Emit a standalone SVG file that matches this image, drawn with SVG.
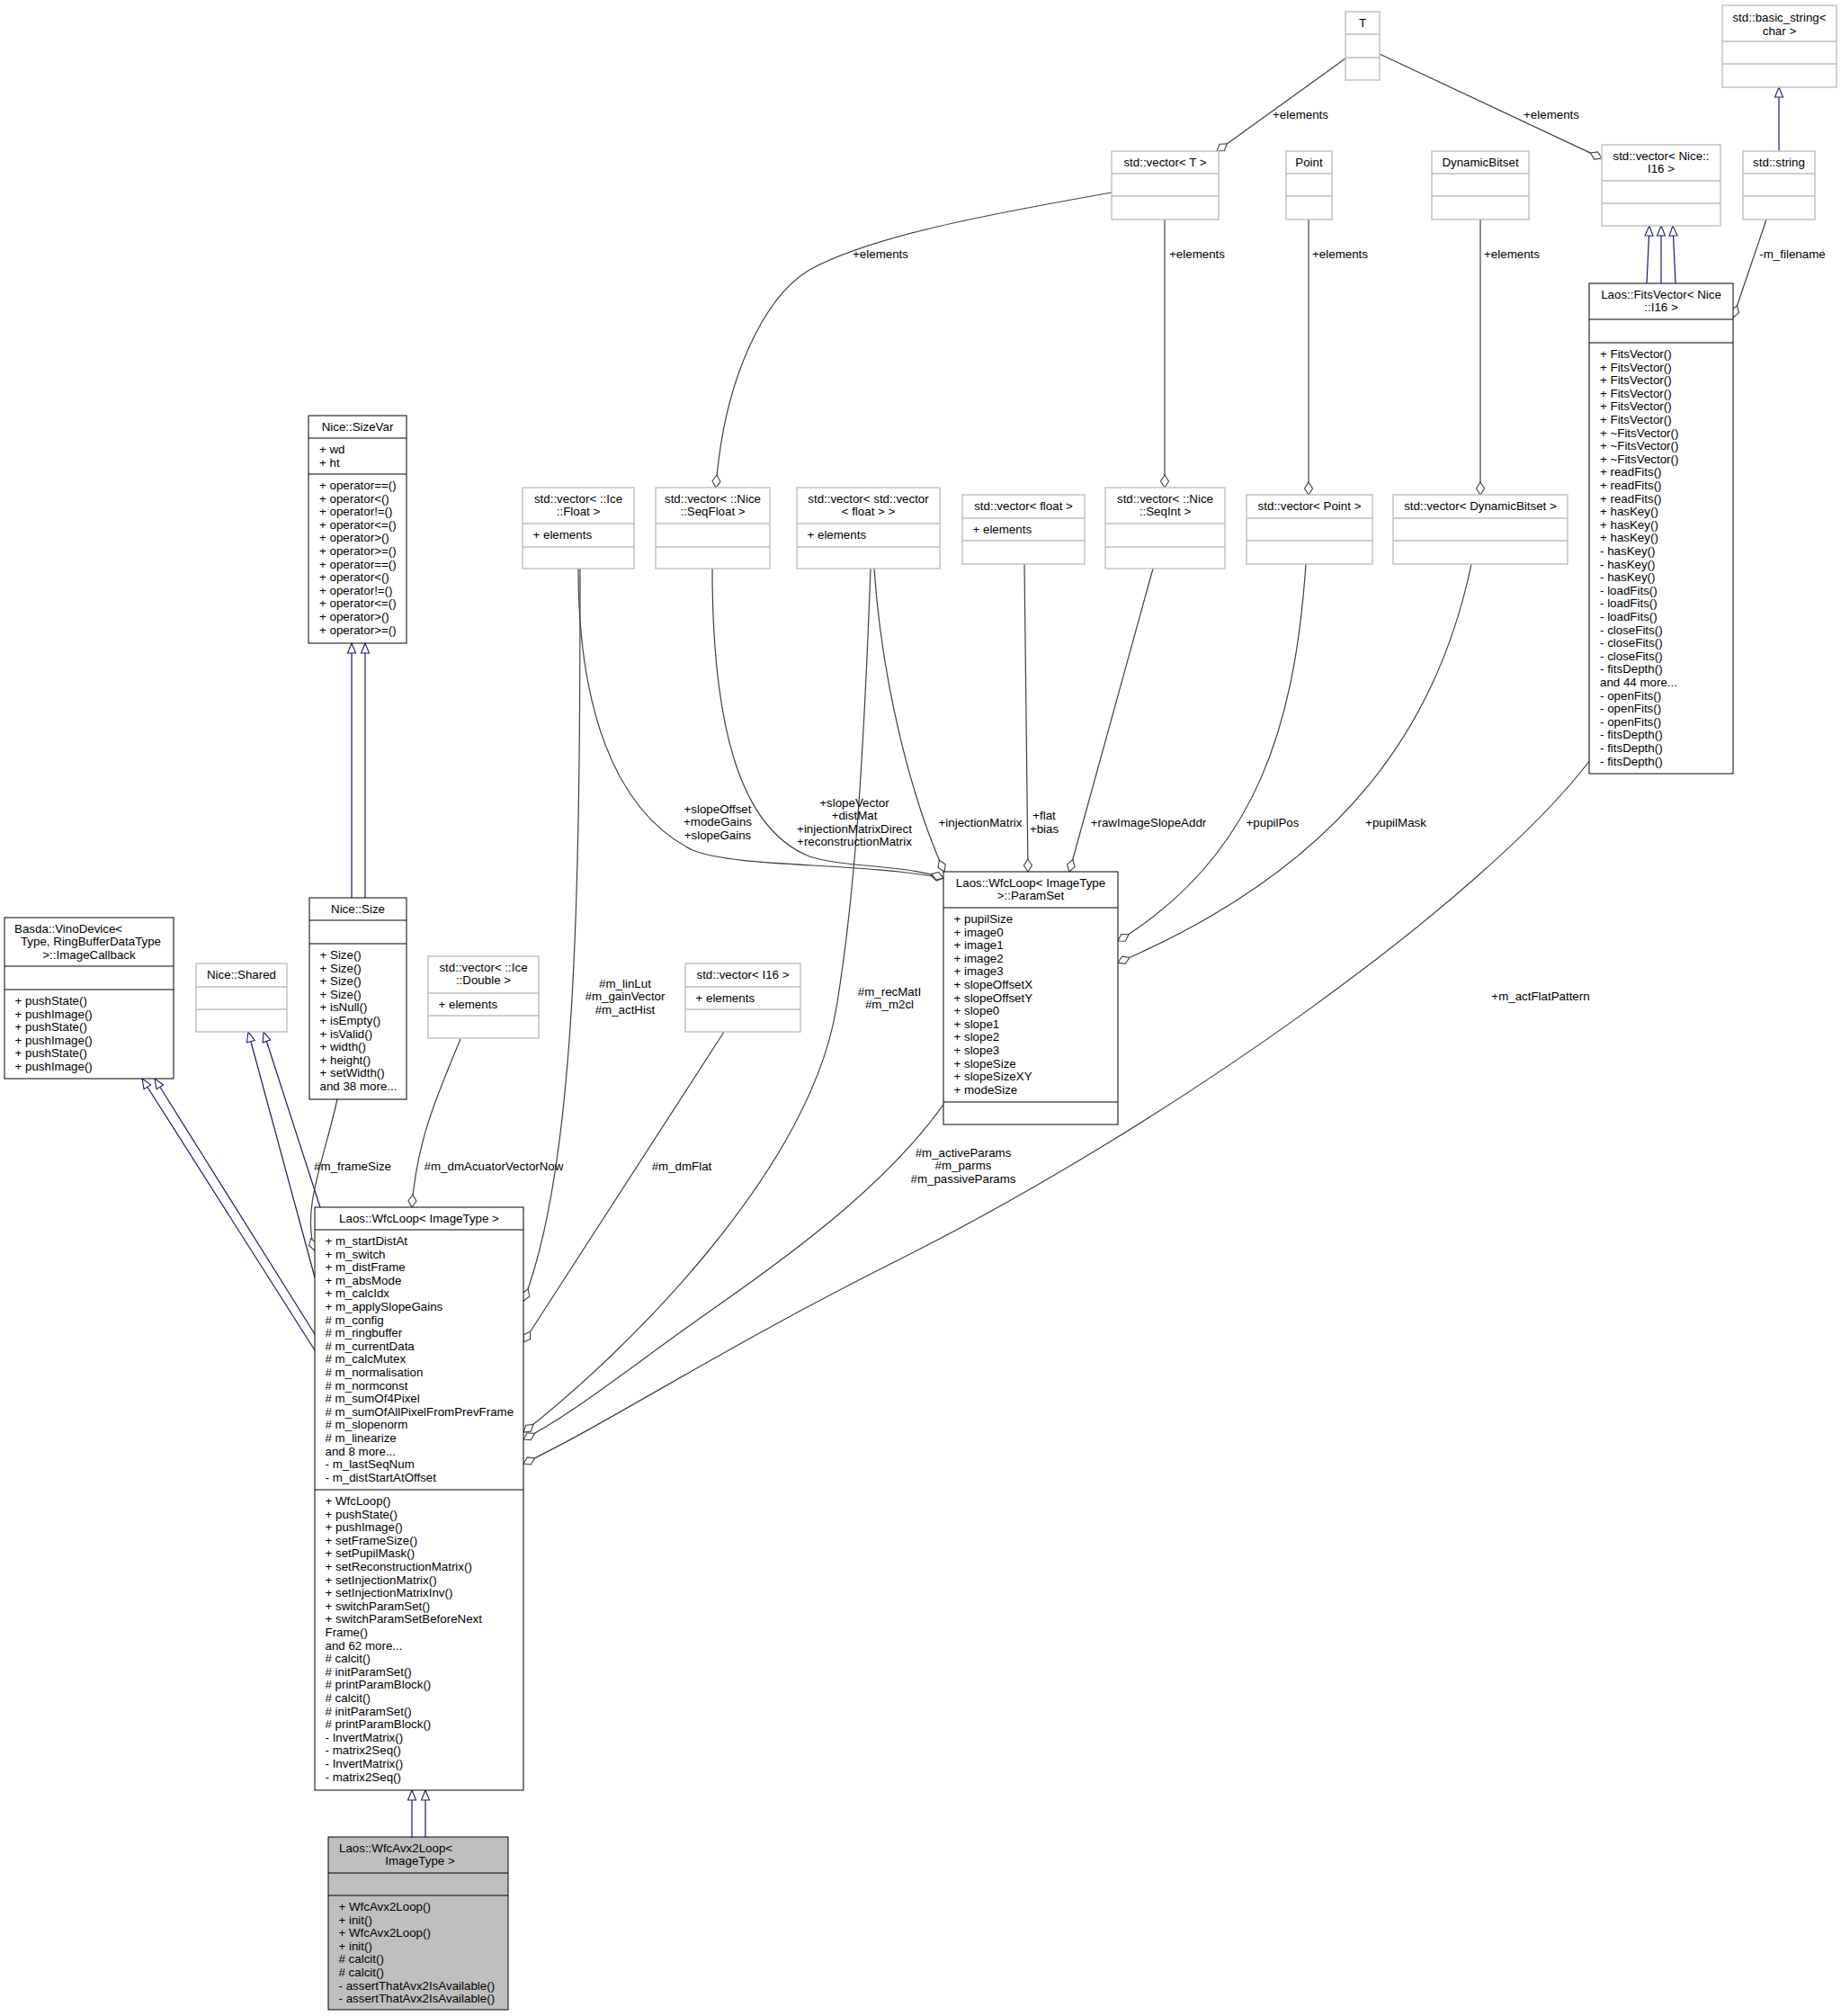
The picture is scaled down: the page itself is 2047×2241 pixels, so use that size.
<svg xmlns="http://www.w3.org/2000/svg" width="2047" height="2241" viewBox="0 0 2047 2241">
<style>
text{font-family:"Liberation Sans",Arial,Helvetica,sans-serif;font-size:13.33px;fill:#000}
.c{text-anchor:middle}
.b{fill:#fff;stroke:#000;stroke-width:1}
.gr{fill:#fff;stroke:#bfbfbf;stroke-width:1.4}
.f{fill:#bfbfbf;stroke:#000;stroke-width:1}
.dl{stroke:#000;stroke-width:1}
.gl{stroke:#bfbfbf;stroke-width:1.4}
.u{fill:none;stroke:#404040;stroke-width:1.2;marker-end:url(#dia)}
.i{fill:none;stroke:#191970;stroke-width:1.2;marker-end:url(#tri)}
</style>
<defs>
<marker id="dia" viewBox="-1 -6 16 12" refX="14" refY="0" markerWidth="16" markerHeight="12" markerUnits="userSpaceOnUse" orient="auto"><path d="M0,0 L7,-4.5 L14,0 L7,4.5 Z" fill="#fff" stroke="#404040" stroke-width="1.1"/></marker>
<marker id="tri" viewBox="-1 -6 13 12" refX="11" refY="0" markerWidth="13" markerHeight="12" markerUnits="userSpaceOnUse" orient="auto"><path d="M0,-4.5 L11,0 L0,4.5 Z" fill="#fff" stroke="#191970" stroke-width="1.1"/></marker>
</defs>
<rect x="0" y="0" width="2047" height="2241" fill="#fff"/>

<g id="connectors">
<path class="i" d="M458,2042 L458,1990"/>
<path class="i" d="M473,2042 L473,1990"/>
<path class="i" d="M350,1501 L158,1199"/>
<path class="i" d="M350,1483 L172,1199"/>
<path class="i" d="M350,1420 L276,1147"/>
<path class="i" d="M356,1342 L293,1147"/>
<path class="i" d="M391,998 L391,715"/>
<path class="i" d="M406,998 L406,715"/>
<path class="i" d="M1978,168 L1978,97"/>
<path class="i" d="M1831,315 L1834,251"/>
<path class="i" d="M1847,315 L1847,251"/>
<path class="i" d="M1863,315 L1860,251"/>

<path class="u" d="M1496,65 L1353,168"/>
<path class="u" d="M1534,60 L1781,176"/>
<path class="u" d="M1236,214 C1100,238 970,262 900,300 C850,330 805,420 796,542"/>
<path class="u" d="M1295,244 L1295,542"/>
<path class="u" d="M1455,244 L1455,550"/>
<path class="u" d="M1646,244 L1646,550"/>
<path class="u" d="M1964,244 L1927,353"/>
<path class="u" d="M1768,845 C1650,1000 1300,1250 1000,1400 C800,1500 680,1580 582,1627"/>
<path class="u" d="M643,632 C643,780 680,900 770,945 C820,965 950,958 1049,976"/>
<path class="u" d="M792,632 C792,800 820,920 900,952 C940,965 1000,960 1049,976"/>
<path class="u" d="M972,632 C980,750 1010,880 1050,969"/>
<path class="u" d="M1139,627 L1143,969"/>
<path class="u" d="M1282,632 L1189,969"/>
<path class="u" d="M1452,627 C1440,800 1400,950 1243,1046"/>
<path class="u" d="M1636,627 C1600,800 1500,960 1243,1070"/>
<path class="u" d="M645,632 C645,1000 640,1300 582,1446"/>
<path class="u" d="M805,1147 L582,1492"/>
<path class="u" d="M968,632 C960,850 950,1000 930,1120 C900,1300 700,1500 582,1592"/>
<path class="u" d="M1049,1228 C990,1310 900,1380 800,1450 C700,1520 640,1570 582,1600"/>
<path class="u" d="M375,1222 C360,1290 335,1345 350,1390"/>
<path class="u" d="M512,1155 C485,1220 463,1270 458,1342"/>

<text class="c" x="1446" y="132">+elements</text>
<text class="c" x="1725" y="132">+elements</text>
<text class="c" x="979" y="287">+elements</text>
<text class="c" x="1331" y="287">+elements</text>
<text class="c" x="1490" y="287">+elements</text>
<text class="c" x="1681" y="287">+elements</text>
<text class="c" x="1993" y="287">-m_filename</text>
<text class="c" x="798"><tspan x="798" y="903.5">+slopeOffset</tspan><tspan x="798" y="918">+modeGains</tspan><tspan x="798" y="932.6">+slopeGains</tspan></text>
<text class="c" x="950"><tspan x="950" y="896.5">+slopeVector</tspan><tspan x="950" y="911">+distMat</tspan><tspan x="950" y="925.6">+injectionMatrixDirect</tspan><tspan x="950" y="940.2">+reconstructionMatrix</tspan></text>
<text class="c" x="1090" y="918.5">+injectionMatrix</text>
<text class="c" x="1161"><tspan x="1161" y="911">+flat</tspan><tspan x="1161" y="925.6">+bias</tspan></text>
<text class="c" x="1277" y="918.5">+rawImageSlopeAddr</text>
<text class="c" x="1415" y="918.5">+pupilPos</text>
<text class="c" x="1552" y="918.5">+pupilMask</text>
<text class="c" x="392" y="1300.5">#m_frameSize</text>
<text class="c" x="549" y="1300.5">#m_dmAcuatorVectorNow</text>
<text class="c" x="695"><tspan x="695" y="1097.5">#m_linLut</tspan><tspan x="695" y="1112">#m_gainVector</tspan><tspan x="695" y="1126.6">#m_actHist</tspan></text>
<text class="c" x="758" y="1300.5">#m_dmFlat</text>
<text class="c" x="989"><tspan x="989" y="1106.5">#m_recMatI</tspan><tspan x="989" y="1121">#m_m2cl</tspan></text>
<text class="c" x="1071"><tspan x="1071" y="1285.5">#m_activeParams</tspan><tspan x="1071" y="1300">#m_parms</tspan><tspan x="1071" y="1314.6">#m_passiveParams</tspan></text>
<text class="c" x="1713" y="1112">+m_actFlatPattern</text>
</g>

<g id="T">
<rect class="gr" x="1496" y="13" width="38" height="76"/>
<path class="gl" d="M1496,38 H1534 M1496,64 H1534"/>
<text class="c" x="1515" y="30">T</text>
</g>

<g id="basic_string">
<rect class="gr" x="1915" y="6" width="127" height="91"/>
<path class="gl" d="M1915,46 H2042 M1915,71 H2042"/>
<text class="c"><tspan x="1978.5" y="24">std::basic_string&lt;</tspan><tspan x="1978.5" y="38.5">char &gt;</tspan></text>
</g>

<g id="vector_T">
<rect class="gr" x="1236" y="168" width="119" height="76"/>
<path class="gl" d="M1236,193 H1355 M1236,218 H1355"/>
<text class="c" x="1295.5" y="185">std::vector&lt; T &gt;</text>
</g>

<g id="Point">
<rect class="gr" x="1430" y="168" width="51" height="76"/>
<path class="gl" d="M1430,193 H1481 M1430,218 H1481"/>
<text class="c" x="1455.5" y="185">Point</text>
</g>

<g id="DynamicBitset">
<rect class="gr" x="1592" y="168" width="108" height="76"/>
<path class="gl" d="M1592,193 H1700 M1592,218 H1700"/>
<text class="c" x="1646" y="185">DynamicBitset</text>
</g>

<g id="vector_NiceI16">
<rect class="gr" x="1781" y="161" width="132" height="90"/>
<path class="gl" d="M1781,201 H1913 M1781,226 H1913"/>
<text class="c"><tspan x="1847" y="177.5">std::vector&lt; Nice::</tspan><tspan x="1847" y="192">I16 &gt;</tspan></text>
</g>

<g id="std_string">
<rect class="gr" x="1938" y="168" width="80" height="76"/>
<path class="gl" d="M1938,193 H2018 M1938,218 H2018"/>
<text class="c" x="1978" y="185">std::string</text>
</g>

<g id="FitsVector">
<rect class="b" x="1767" y="315" width="160" height="545"/>
<path class="dl" d="M1767,355 H1927 M1767,381 H1927"/>
<text class="c"><tspan x="1847" y="331.5">Laos::FitsVector&lt; Nice</tspan><tspan x="1847" y="346">::I16 &gt;</tspan></text>
<text x="1779"><tspan x="1779" y="398">+ FitsVector()</tspan><tspan x="1779" dy="14.6">+ FitsVector()</tspan><tspan x="1779" dy="14.6">+ FitsVector()</tspan><tspan x="1779" dy="14.6">+ FitsVector()</tspan><tspan x="1779" dy="14.6">+ FitsVector()</tspan><tspan x="1779" dy="14.6">+ FitsVector()</tspan><tspan x="1779" dy="14.6">+ ~FitsVector()</tspan><tspan x="1779" dy="14.6">+ ~FitsVector()</tspan><tspan x="1779" dy="14.6">+ ~FitsVector()</tspan><tspan x="1779" dy="14.6">+ readFits()</tspan><tspan x="1779" dy="14.6">+ readFits()</tspan><tspan x="1779" dy="14.6">+ readFits()</tspan><tspan x="1779" dy="14.6">+ hasKey()</tspan><tspan x="1779" dy="14.6">+ hasKey()</tspan><tspan x="1779" dy="14.6">+ hasKey()</tspan><tspan x="1779" dy="14.6">- hasKey()</tspan><tspan x="1779" dy="14.6">- hasKey()</tspan><tspan x="1779" dy="14.6">- hasKey()</tspan><tspan x="1779" dy="14.6">- loadFits()</tspan><tspan x="1779" dy="14.6">- loadFits()</tspan><tspan x="1779" dy="14.6">- loadFits()</tspan><tspan x="1779" dy="14.6">- closeFits()</tspan><tspan x="1779" dy="14.6">- closeFits()</tspan><tspan x="1779" dy="14.6">- closeFits()</tspan><tspan x="1779" dy="14.6">- fitsDepth()</tspan><tspan x="1779" dy="14.6">and 44 more...</tspan><tspan x="1779" dy="14.6">- openFits()</tspan><tspan x="1779" dy="14.6">- openFits()</tspan><tspan x="1779" dy="14.6">- openFits()</tspan><tspan x="1779" dy="14.6">- fitsDepth()</tspan><tspan x="1779" dy="14.6">- fitsDepth()</tspan><tspan x="1779" dy="14.6">- fitsDepth()</tspan></text>
</g>

<g id="SizeVar">
<rect class="b" x="343" y="462" width="109" height="253"/>
<path class="dl" d="M343,487 H452 M343,527 H452"/>
<text class="c" x="397.5" y="479">Nice::SizeVar</text>
<text x="355"><tspan x="355" y="504">+ wd</tspan><tspan x="355" dy="14.6">+ ht</tspan></text>
<text x="355"><tspan x="355" y="544">+ operator==()</tspan><tspan x="355" dy="14.6">+ operator&lt;()</tspan><tspan x="355" dy="14.6">+ operator!=()</tspan><tspan x="355" dy="14.6">+ operator&lt;=()</tspan><tspan x="355" dy="14.6">+ operator&gt;()</tspan><tspan x="355" dy="14.6">+ operator&gt;=()</tspan><tspan x="355" dy="14.6">+ operator==()</tspan><tspan x="355" dy="14.6">+ operator&lt;()</tspan><tspan x="355" dy="14.6">+ operator!=()</tspan><tspan x="355" dy="14.6">+ operator&lt;=()</tspan><tspan x="355" dy="14.6">+ operator&gt;()</tspan><tspan x="355" dy="14.6">+ operator&gt;=()</tspan></text>
</g>

<g id="vector_IceFloat">
<rect class="gr" x="581" y="542" width="124" height="90"/>
<path class="gl" d="M581,582 H705 M581,608 H705"/>
<text class="c"><tspan x="643" y="558.5">std::vector&lt; ::Ice</tspan><tspan x="643" y="573">::Float &gt;</tspan></text>
<text x="592.5" y="599">+ elements</text>
</g>

<g id="vector_SeqFloat">
<rect class="gr" x="729" y="542" width="127" height="90"/>
<path class="gl" d="M729,582 H856 M729,608 H856"/>
<text class="c"><tspan x="792.5" y="558.5">std::vector&lt; ::Nice</tspan><tspan x="792.5" y="573">::SeqFloat &gt;</tspan></text>
</g>

<g id="vector_vector_float">
<rect class="gr" x="886" y="542" width="159" height="90"/>
<path class="gl" d="M886,582 H1045 M886,608 H1045"/>
<text class="c"><tspan x="965.5" y="558.5">std::vector&lt; std::vector</tspan><tspan x="965.5" y="573">&lt; float &gt; &gt;</tspan></text>
<text x="897.5" y="599">+ elements</text>
</g>

<g id="vector_float">
<rect class="gr" x="1070" y="550" width="136" height="77"/>
<path class="gl" d="M1070,576 H1206 M1070,601 H1206"/>
<text class="c" x="1138" y="567">std::vector&lt; float &gt;</text>
<text x="1081.5" y="593">+ elements</text>
</g>

<g id="vector_SeqInt">
<rect class="gr" x="1229" y="542" width="133" height="90"/>
<path class="gl" d="M1229,582 H1362 M1229,608 H1362"/>
<text class="c"><tspan x="1295.5" y="558.5">std::vector&lt; ::Nice</tspan><tspan x="1295.5" y="573">::SeqInt &gt;</tspan></text>
</g>

<g id="vector_Point">
<rect class="gr" x="1386" y="550" width="140" height="77"/>
<path class="gl" d="M1386,576 H1526 M1386,601 H1526"/>
<text class="c" x="1456" y="567">std::vector&lt; Point &gt;</text>
</g>

<g id="vector_DynamicBitset">
<rect class="gr" x="1549" y="550" width="194" height="77"/>
<path class="gl" d="M1549,576 H1743 M1549,601 H1743"/>
<text class="c" x="1646" y="567">std::vector&lt; DynamicBitset &gt;</text>
</g>

<g id="ParamSet">
<rect class="b" x="1049" y="969" width="194" height="281"/>
<path class="dl" d="M1049,1009 H1243 M1049,1225 H1243"/>
<text class="c"><tspan x="1146" y="985.5">Laos::WfcLoop&lt; ImageType</tspan><tspan x="1146" y="1000">&gt;::ParamSet</tspan></text>
<text x="1060.5"><tspan x="1060.5" y="1026">+ pupilSize</tspan><tspan x="1060.5" dy="14.6">+ image0</tspan><tspan x="1060.5" dy="14.6">+ image1</tspan><tspan x="1060.5" dy="14.6">+ image2</tspan><tspan x="1060.5" dy="14.6">+ image3</tspan><tspan x="1060.5" dy="14.6">+ slopeOffsetX</tspan><tspan x="1060.5" dy="14.6">+ slopeOffsetY</tspan><tspan x="1060.5" dy="14.6">+ slope0</tspan><tspan x="1060.5" dy="14.6">+ slope1</tspan><tspan x="1060.5" dy="14.6">+ slope2</tspan><tspan x="1060.5" dy="14.6">+ slope3</tspan><tspan x="1060.5" dy="14.6">+ slopeSize</tspan><tspan x="1060.5" dy="14.6">+ slopeSizeXY</tspan><tspan x="1060.5" dy="14.6">+ modeSize</tspan></text>
</g>

<g id="Basda_ImageCallback">
<rect class="b" x="5" y="1020" width="188" height="179"/>
<path class="dl" d="M5,1074 H193 M5,1100 H193"/>
<text x="16" y="1036.5">Basda::VinoDevice&lt;</text>
<text class="c"><tspan x="101" y="1051">Type, RingBufferDataType</tspan><tspan x="99" y="1065.6">&gt;::ImageCallback</tspan></text>
<text x="16.5"><tspan x="16.5" y="1117">+ pushState()</tspan><tspan x="16.5" dy="14.6">+ pushImage()</tspan><tspan x="16.5" dy="14.6">+ pushState()</tspan><tspan x="16.5" dy="14.6">+ pushImage()</tspan><tspan x="16.5" dy="14.6">+ pushState()</tspan><tspan x="16.5" dy="14.6">+ pushImage()</tspan></text>
</g>

<g id="Nice_Shared">
<rect class="gr" x="218" y="1071" width="101" height="76"/>
<path class="gl" d="M218,1097 H319 M218,1122 H319"/>
<text class="c" x="268.5" y="1088">Nice::Shared</text>
</g>

<g id="Nice_Size">
<rect class="b" x="344" y="998" width="108" height="224"/>
<path class="dl" d="M344,1023 H452 M344,1049 H452"/>
<text class="c" x="398" y="1015">Nice::Size</text>
<text x="355.5"><tspan x="355.5" y="1066">+ Size()</tspan><tspan x="355.5" dy="14.6">+ Size()</tspan><tspan x="355.5" dy="14.6">+ Size()</tspan><tspan x="355.5" dy="14.6">+ Size()</tspan><tspan x="355.5" dy="14.6">+ isNull()</tspan><tspan x="355.5" dy="14.6">+ isEmpty()</tspan><tspan x="355.5" dy="14.6">+ isValid()</tspan><tspan x="355.5" dy="14.6">+ width()</tspan><tspan x="355.5" dy="14.6">+ height()</tspan><tspan x="355.5" dy="14.6">+ setWidth()</tspan><tspan x="355.5" dy="14.6">and 38 more...</tspan></text>
</g>

<g id="vector_IceDouble">
<rect class="gr" x="476" y="1063" width="123" height="91"/>
<path class="gl" d="M476,1104 H599 M476,1129 H599"/>
<text class="c"><tspan x="537.5" y="1079.5">std::vector&lt; ::Ice</tspan><tspan x="537.5" y="1094">::Double &gt;</tspan></text>
<text x="487.5" y="1121">+ elements</text>
</g>

<g id="vector_I16">
<rect class="gr" x="762" y="1071" width="128" height="76"/>
<path class="gl" d="M762,1097 H890 M762,1122 H890"/>
<text class="c" x="826" y="1088">std::vector&lt; I16 &gt;</text>
<text x="773.5" y="1114">+ elements</text>
</g>

<g id="WfcLoop">
<rect class="b" x="350" y="1342" width="232" height="648"/>
<path class="dl" d="M350,1367 H582 M350,1656 H582"/>
<text class="c" x="466" y="1359">Laos::WfcLoop&lt; ImageType &gt;</text>
<text x="361.5"><tspan x="361.5" y="1384">+ m_startDistAt</tspan><tspan x="361.5" dy="14.6">+ m_switch</tspan><tspan x="361.5" dy="14.6">+ m_distFrame</tspan><tspan x="361.5" dy="14.6">+ m_absMode</tspan><tspan x="361.5" dy="14.6">+ m_calcIdx</tspan><tspan x="361.5" dy="14.6">+ m_applySlopeGains</tspan><tspan x="361.5" dy="14.6"># m_config</tspan><tspan x="361.5" dy="14.6"># m_ringbuffer</tspan><tspan x="361.5" dy="14.6"># m_currentData</tspan><tspan x="361.5" dy="14.6"># m_calcMutex</tspan><tspan x="361.5" dy="14.6"># m_normalisation</tspan><tspan x="361.5" dy="14.6"># m_normconst</tspan><tspan x="361.5" dy="14.6"># m_sumOf4Pixel</tspan><tspan x="361.5" dy="14.6"># m_sumOfAllPixelFromPrevFrame</tspan><tspan x="361.5" dy="14.6"># m_slopenorm</tspan><tspan x="361.5" dy="14.6"># m_linearize</tspan><tspan x="361.5" dy="14.6">and 8 more...</tspan><tspan x="361.5" dy="14.6">- m_lastSeqNum</tspan><tspan x="361.5" dy="14.6">- m_distStartAtOffset</tspan></text>
<text x="361.5"><tspan x="361.5" y="1673">+ WfcLoop()</tspan><tspan x="361.5" dy="14.6">+ pushState()</tspan><tspan x="361.5" dy="14.6">+ pushImage()</tspan><tspan x="361.5" dy="14.6">+ setFrameSize()</tspan><tspan x="361.5" dy="14.6">+ setPupilMask()</tspan><tspan x="361.5" dy="14.6">+ setReconstructionMatrix()</tspan><tspan x="361.5" dy="14.6">+ setInjectionMatrix()</tspan><tspan x="361.5" dy="14.6">+ setInjectionMatrixInv()</tspan><tspan x="361.5" dy="14.6">+ switchParamSet()</tspan><tspan x="361.5" dy="14.6">+ switchParamSetBeforeNext</tspan><tspan x="361.5" dy="14.6">Frame()</tspan><tspan x="361.5" dy="14.6">and 62 more...</tspan><tspan x="361.5" dy="14.6"># calcit()</tspan><tspan x="361.5" dy="14.6"># initParamSet()</tspan><tspan x="361.5" dy="14.6"># printParamBlock()</tspan><tspan x="361.5" dy="14.6"># calcit()</tspan><tspan x="361.5" dy="14.6"># initParamSet()</tspan><tspan x="361.5" dy="14.6"># printParamBlock()</tspan><tspan x="361.5" dy="14.6">- InvertMatrix()</tspan><tspan x="361.5" dy="14.6">- matrix2Seq()</tspan><tspan x="361.5" dy="14.6">- InvertMatrix()</tspan><tspan x="361.5" dy="14.6">- matrix2Seq()</tspan></text>
</g>

<g id="WfcAvx2Loop">
<rect class="f" x="365" y="2042" width="200" height="192"/>
<path class="dl" d="M365,2082 H565 M365,2107 H565"/>
<text x="377" y="2058.5">Laos::WfcAvx2Loop&lt;</text>
<text class="c" x="467" y="2073">ImageType &gt;</text>
<text x="376.5"><tspan x="376.5" y="2124">+ WfcAvx2Loop()</tspan><tspan x="376.5" dy="14.6">+ init()</tspan><tspan x="376.5" dy="14.6">+ WfcAvx2Loop()</tspan><tspan x="376.5" dy="14.6">+ init()</tspan><tspan x="376.5" dy="14.6"># calcit()</tspan><tspan x="376.5" dy="14.6"># calcit()</tspan><tspan x="376.5" dy="14.6">- assertThatAvx2IsAvailable()</tspan><tspan x="376.5" dy="14.6">- assertThatAvx2IsAvailable()</tspan></text>
</g>
</svg>
